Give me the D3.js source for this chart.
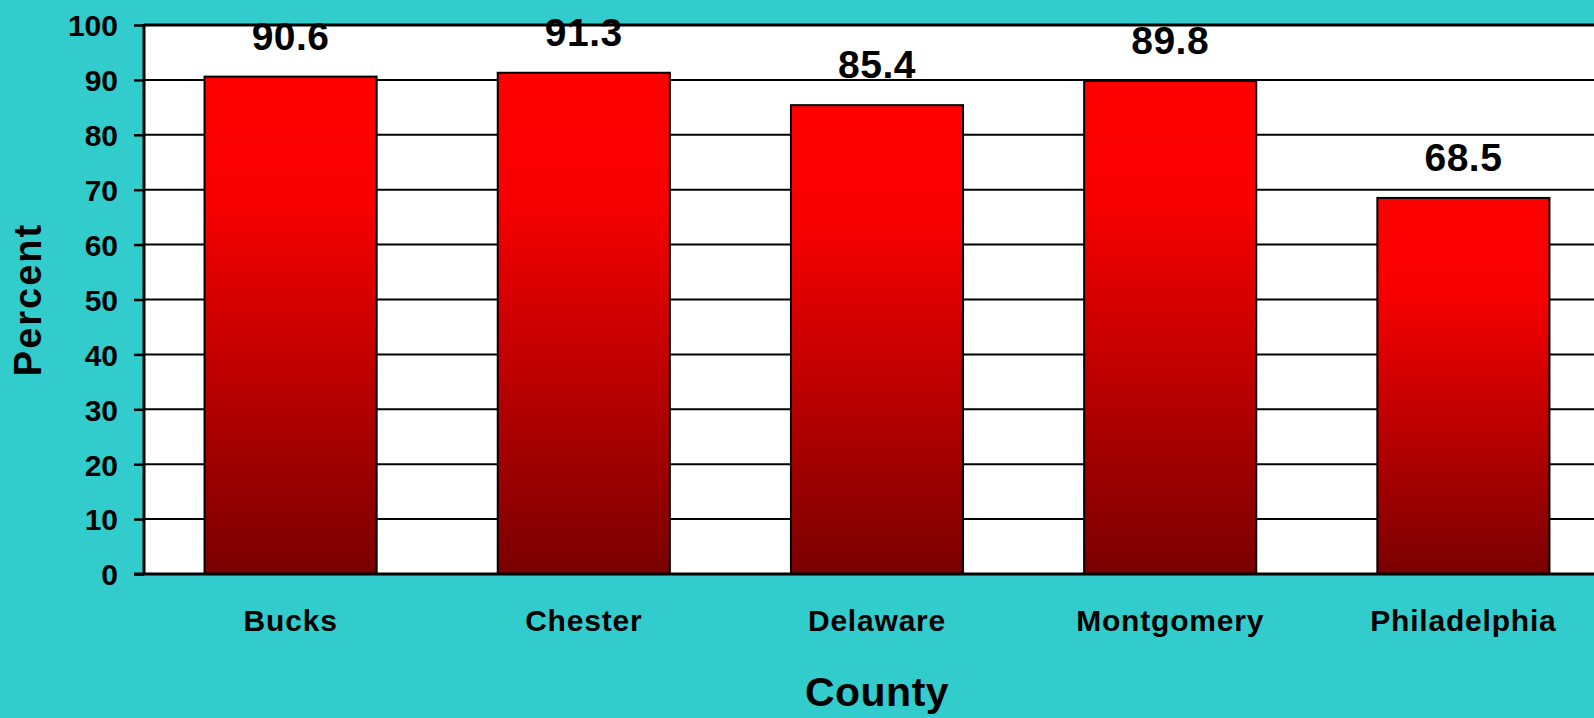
<!DOCTYPE html>
<html>
<head>
<meta charset="utf-8">
<script src="https://cdn.jsdelivr.net/npm/d3@7"></script>
<style>
  html, body { margin: 0; padding: 0; background: #33CCCC; overflow: hidden; }
  svg { display: block; }
  text { font-family: "Liberation Sans", Arial, sans-serif; font-weight: bold; fill: #000; }
</style>
</head>
<body>
<svg id="chart" width="1594" height="718"></svg>
<script>
const categories = ["Bucks", "Chester", "Delaware", "Montgomery", "Philadelphia"];
const values = [90.6, 91.3, 85.4, 89.8, 68.5];
const yTicks = [0, 10, 20, 30, 40, 50, 60, 70, 80, 90, 100];
const xTitle = "County";
const yTitle = "Percent";

const W = 1594, H = 718;
const plot = { left: 144, right: 1610, top: 25, bottom: 574 };

const svg = d3.select("#chart");

const defs = svg.append("defs");
const grad = defs.append("linearGradient")
  .attr("id", "barGrad").attr("x1", 0).attr("y1", 0).attr("x2", 0).attr("y2", 1);
grad.append("stop").attr("offset", "0%").attr("stop-color", "#ff0000");
grad.append("stop").attr("offset", "25%").attr("stop-color", "#f80000");
grad.append("stop").attr("offset", "100%").attr("stop-color", "#7a0000");

const x = d3.scaleBand().domain(categories).range([plot.left, plot.right])
  .paddingInner(0.413).paddingOuter(0.2065);
const y = d3.scaleLinear().domain([0, 100]).range([plot.bottom, plot.top]);

// plot area
svg.append("rect").attr("x", plot.left).attr("y", plot.top)
  .attr("width", plot.right - plot.left).attr("height", plot.bottom - plot.top)
  .attr("fill", "#fff");

// gridlines
svg.append("g").selectAll("line").data(yTicks.filter(d => d > 0)).join("line")
  .attr("x1", plot.left).attr("x2", plot.right)
  .attr("y1", d => y(d)).attr("y2", d => y(d))
  .attr("stroke", "#000").attr("stroke-width", 2);

// bars
svg.append("g").selectAll("rect").data(categories).join("rect")
  .attr("x", d => x(d)).attr("width", x.bandwidth())
  .attr("y", (d, i) => y(values[i]))
  .attr("height", (d, i) => y(0) - y(values[i]))
  .attr("fill", "url(#barGrad)")
  .attr("stroke", "#000").attr("stroke-width", 2);

// value labels
svg.append("g").selectAll("text").data(categories).join("text")
  .attr("x", d => x(d) + x.bandwidth() / 2)
  .attr("y", (d, i) => y(values[i]) - 27)
  .attr("text-anchor", "middle")
  .style("font-size", "39px").style("letter-spacing", "0.5px")
  .text((d, i) => values[i].toFixed(1));

// y axis
const yAxis = d3.axisLeft(y).tickValues(yTicks).tickSize(10).tickPadding(16).tickFormat(d3.format("d"));
const gy = svg.append("g").attr("transform", `translate(${plot.left},0)`).call(yAxis);
gy.select(".domain").remove();
gy.selectAll(".tick line").attr("stroke", "#000").attr("stroke-width", 2.5);
gy.selectAll(".tick text").style("font-size", "30px")
  .attr("font-family", null).attr("dy", "0.36em");
svg.append("line").attr("x1", plot.left).attr("x2", plot.left)
  .attr("y1", plot.top - 1).attr("y2", plot.bottom + 1)
  .attr("stroke", "#000").attr("stroke-width", 3);

// x axis
const xAxis = d3.axisBottom(x).tickSize(0).tickPadding(0);
const gx = svg.append("g").attr("transform", `translate(0,${plot.bottom})`).call(xAxis);
gx.select(".domain").remove();
gx.selectAll(".tick text").attr("font-family", null).attr("dy", null).attr("y", 57)
  .style("font-size", "30px").style("letter-spacing", "0.8px");
svg.append("line").attr("x1", plot.left - 10).attr("x2", plot.right)
  .attr("y1", plot.bottom).attr("y2", plot.bottom)
  .attr("stroke", "#000").attr("stroke-width", 3);
svg.append("line").attr("x1", plot.left).attr("x2", plot.right)
  .attr("y1", plot.top).attr("y2", plot.top)
  .attr("stroke", "#000").attr("stroke-width", 3);

// titles
svg.append("text").attr("x", (plot.left + plot.right) / 2).attr("y", 706)
  .attr("text-anchor", "middle").style("font-size", "41px").style("letter-spacing", "0.5px")
  .text(xTitle);
svg.append("text").attr("transform", `translate(41,${(plot.top + plot.bottom) / 2}) rotate(-90)`)
  .attr("text-anchor", "middle").style("font-size", "38px").style("letter-spacing", "2px")
  .text(yTitle);
</script>
</body>
</html>
